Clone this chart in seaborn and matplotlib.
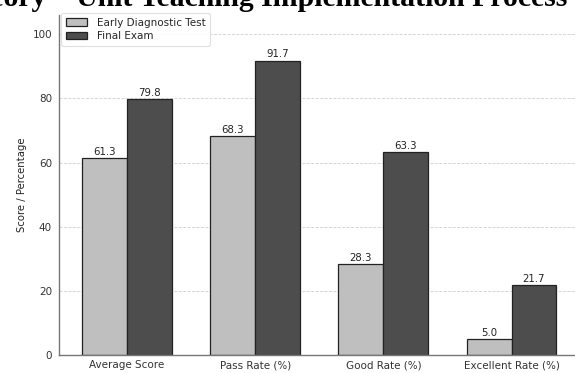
import matplotlib
matplotlib.use("Agg")
import matplotlib.pyplot as plt
import seaborn as sns
import pandas as pd

categories = ["Average Score", "Pass Rate (%)", "Good Rate (%)", "Excellent Rate (%)"]
series_names = ["Early Diagnostic Test", "Final Exam"]
early_values = [61.3, 68.3, 28.3, 5.0]
final_values = [79.8, 91.7, 63.3, 21.7]
y_ticks = [0, 20, 40, 60, 80, 100]
title_text = "Theory    Unit Teaching Implementation Process"
y_label = "Score / Percentage"

df = pd.DataFrame({
    "category": categories * 2,
    "value": early_values + final_values,
    "series": [series_names[0]] * len(categories) + [series_names[1]] * len(categories),
})

sns.set_style("white")
plt.rcParams["font.family"] = ["DejaVu Sans"]

fig = plt.figure(figsize=(5.75, 3.73), dpi=100)
ax = fig.add_axes([0.1026, 0.0483, 0.8985, 0.9115])

sns.barplot(
    data=df, x="category", y="value", hue="series",
    palette=["#bfbfbf", "#4d4d4d"], width=0.7,
    edgecolor="#222222", linewidth=0.9, ax=ax, errorbar=None,
)

for cont in ax.containers:
    ax.bar_label(cont, fmt="%.1f", padding=1, fontsize=7.3, color="#222222")

ax.set_ylim(0, 106)
ax.set_xlim(-0.53, 3.5)
ax.set_yticks(y_ticks)
ax.set_xlabel("")
ax.set_ylabel(y_label, fontsize=7.3, color="#222222")
ax.tick_params(axis="both", labelsize=7.5, colors="#333333", length=3, width=0.8,
               color="#777777")
ax.tick_params(axis="x", pad=1.2, length=2.5)
ax.tick_params(axis="y", pad=2.0)
ax.set_axisbelow(True)
ax.yaxis.grid(True, linestyle="--", color="#d0d0d0", linewidth=0.6)
ax.xaxis.grid(False)
for s in ["top", "right"]:
    ax.spines[s].set_visible(False)
for s in ["left", "bottom"]:
    ax.spines[s].set_color("#777777")
    ax.spines[s].set_linewidth(1.0)

leg = ax.legend(loc="upper left", bbox_to_anchor=(61 / 575, 1 - 13 / 373),
                bbox_transform=fig.transFigure, fontsize=7.5, frameon=True,
                framealpha=0.9, edgecolor="#dddddd", borderaxespad=0,
                handlelength=2.0, handletextpad=1.0, borderpad=0.45,
                labelspacing=0.35)
leg.get_frame().set_linewidth(0.8)

fig.text(567 / 575, 1 - 6.5 / 373, title_text, ha="right", va="baseline",
         fontsize=21.4, fontweight="bold", family="Liberation Serif", color="black")

fig.savefig("out.png", dpi=100)
